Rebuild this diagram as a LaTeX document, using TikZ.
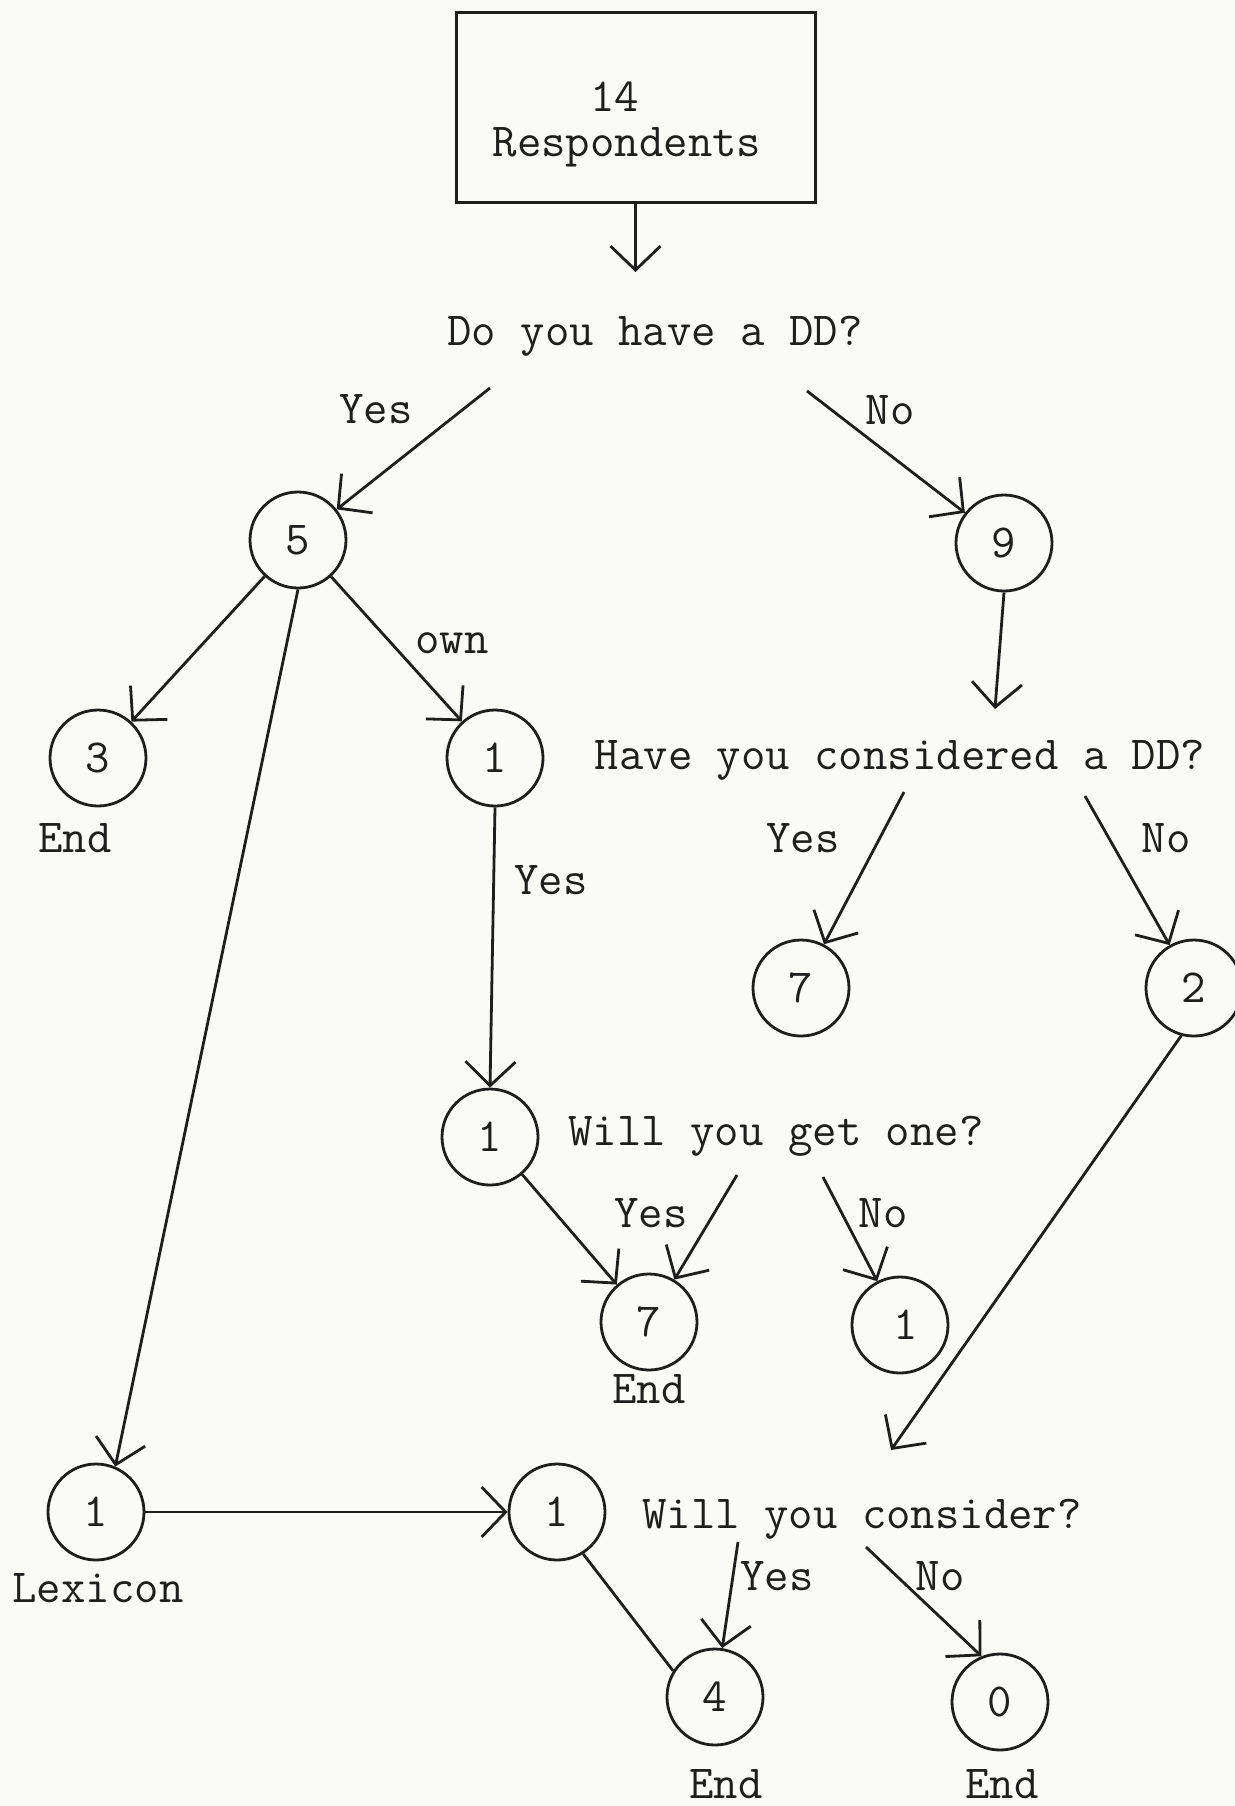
\documentclass[tikz,border=0pt]{standalone}
\usepackage{fontspec}
\usetikzlibrary{arrows.meta}
\definecolor{paper}{RGB}{250,250,248}
\definecolor{ink}{RGB}{30,30,30}
\begin{document}
\begin{tikzpicture}[x=0.5pt,y=-0.5pt,
  every node/.style={font=\fontsize{23.7}{24}\selectfont\ttfamily, text=ink},
  txt/.style={inner sep=0pt, anchor=base},
  cnode/.style={circle, draw=ink, line width=1.4pt, minimum size=48pt, inner sep=0pt},
  boxst/.style={rectangle, draw=ink, line width=1.5pt, minimum width=179.5pt, minimum height=95pt, inner sep=0pt},
  conn/.style={draw=ink, line width=1.4pt},
  arr/.style={conn, -{Straight Barb[length=12pt,width=25pt,line width=1.4pt]}}]
\useasboundingbox (0,0) rectangle (1235,1806);
\fill[paper] (0,0) rectangle (1235,1806);
\clip (0,0) rectangle (1235,1806);

% box
\node[boxst] (box) at (635.5,107) {};
\node[inner sep=0pt, align=left, font=\fontsize{23.7}{22.5}\selectfont\ttfamily] (tresp) at (627,124) {\phantom{Resp}14\\Respondents};

% questions and labels
\node[txt] (q1) at (655,345) {Do you have a DD?};
\node[txt] (lyes1) at (376,423) {Yes};
\node[txt] (lno1) at (890,424) {No};
\node[txt] (lown) at (452,653) {own};
\node[txt] (end3) at (75,852) {End};
\node[txt] (q2) at (900,769) {Have you considered a DD?};
\node[txt] (lyes2) at (551,894) {Yes};
\node[txt] (lyes3) at (803,852) {Yes};
\node[txt] (lno3) at (1166,852) {No};
\node[txt] (q3) at (776,1145) {Will you get one?};
\node[txt] (lyes4) at (651,1227) {Yes};
\node[txt] (lno4) at (883,1227) {No};
\node[txt] (end7) at (649,1403) {End};
\node[txt] (lexl) at (98,1602) {Lexicon};
\node[txt] (q4) at (862,1528) {Will you consider?};
\node[txt] (lyes5) at (777,1590) {Yes};
\node[txt] (lno5) at (940,1590) {No};
\node[txt] (end4) at (726,1798) {End};
\node[txt] (end0) at (1002,1798) {End};

% circles
\node[cnode] (c5) at (298,540) {5};
\node[cnode] (c9) at (1004,543) {9};
\node[cnode] (c3) at (98,758) {3};
\node[cnode] (cown) at (495,758) {1};
\node[cnode] (c7a) at (801,988) {7};
\node[cnode] (c2) at (1194,988) {2};
\node[cnode] (cwill) at (490,1137) {1};
\node[cnode] (c7b) at (649,1322) {7};
\node[cnode] (c1n) at (900,1325) {\hspace*{6pt}1};
\node[cnode] (clex) at (96,1512) {1};
\node[cnode] (ccons) at (557,1512) {1};
\node[cnode] (c4) at (715,1697) {4};
\node[cnode] (c0) at (1000,1702) {0};

% free ends
\coordinate (a0) at (635.5,272);
\coordinate (s1y) at (490,388);
\coordinate (s1n) at (807,391);
\coordinate (t9) at (995,709);
\coordinate (s2y) at (904,792);
\coordinate (s2n) at (1085,796);
\coordinate (s3y) at (737,1175);
\coordinate (s3n) at (823,1177);
\coordinate (t2) at (891,1450);
\coordinate (s4y) at (738,1542);
\coordinate (s4n) at (866,1547);

% connectors
\draw[arr] (box.south) -- (a0);
\draw[arr] (s1y) -- (c5);
\draw[arr] (s1n) -- (c9);
\draw[arr] (c5) -- (c3);
\draw[arr] (c5) -- (cown);
\draw[arr] (c5.south) -- (clex.67);
\draw[arr] (c9.south) -- (t9);
\draw[arr] (cown.south) -- (cwill.north);
\draw[arr] (s2y) -- (c7a);
\draw[arr] (s2n) -- (c2);
\draw[arr] (cwill) -- (c7b);
\draw[arr] (s3y) -- (c7b);
\draw[arr] (s3n) -- (c1n);
\draw[arr] (c2.-105) -- (t2);
\draw[arr] (clex) -- (ccons);
\draw[conn] (ccons.-58) -- (c4.148);
\draw[arr] (s4y) -- (c4);
\draw[arr] (s4n) -- (c0.112);
\end{tikzpicture}
\end{document}
